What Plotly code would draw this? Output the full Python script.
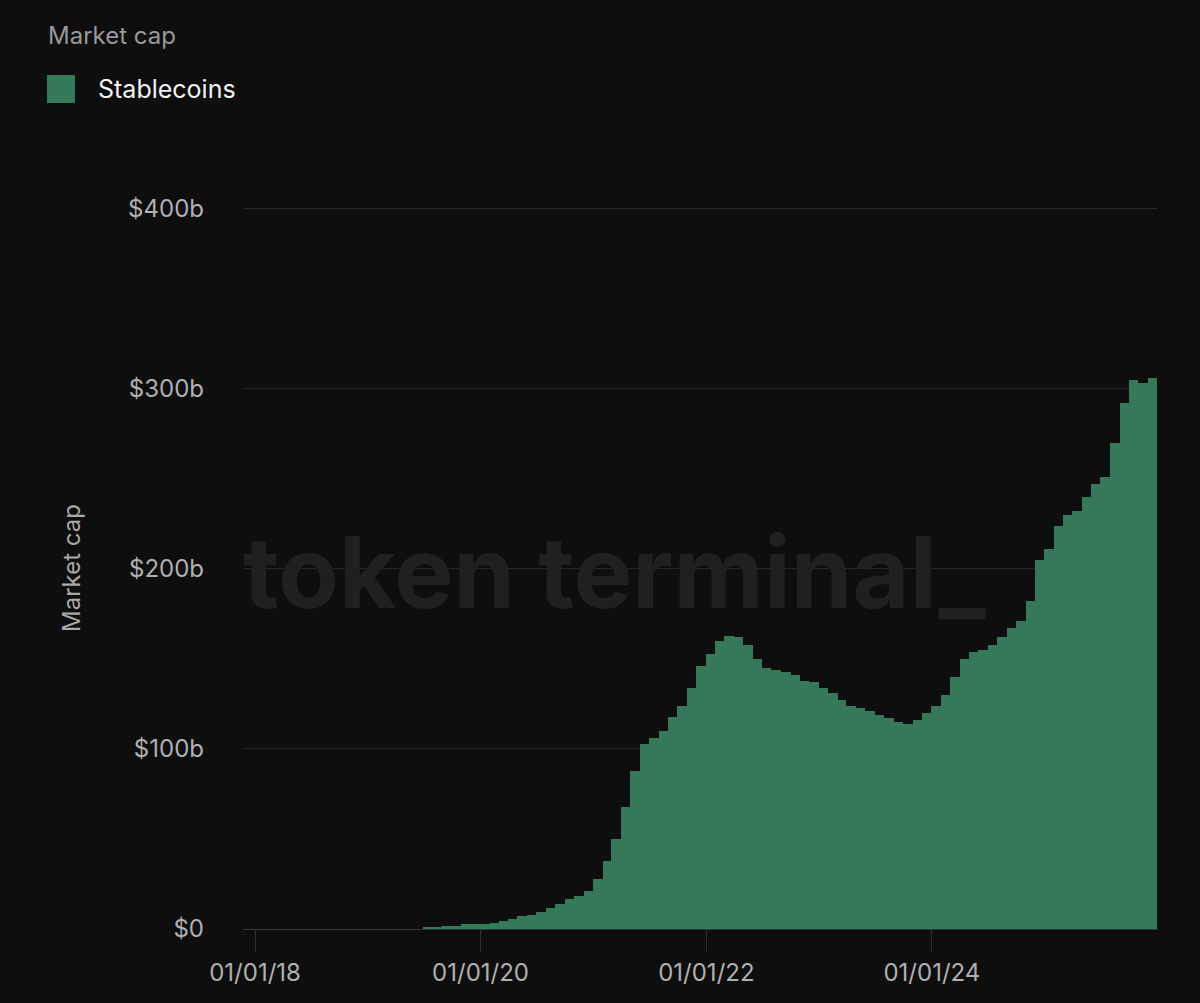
import plotly.graph_objects as go

# ---- data (monthly, USD billions) ----
months = [
    "2019-07", "2019-08", "2019-09", "2019-10", "2019-11", "2019-12",
    "2020-01", "2020-02", "2020-03", "2020-04", "2020-05", "2020-06",
    "2020-07", "2020-08", "2020-09", "2020-10", "2020-11", "2020-12",
    "2021-01", "2021-02", "2021-03", "2021-04", "2021-05", "2021-06",
    "2021-07", "2021-08", "2021-09", "2021-10", "2021-11", "2021-12",
    "2022-01", "2022-02", "2022-03", "2022-04", "2022-05", "2022-06",
    "2022-07", "2022-08", "2022-09", "2022-10", "2022-11", "2022-12",
    "2023-01", "2023-02", "2023-03", "2023-04", "2023-05", "2023-06",
    "2023-07", "2023-08", "2023-09", "2023-10", "2023-11", "2023-12",
    "2024-01", "2024-02", "2024-03", "2024-04", "2024-05", "2024-06",
    "2024-07", "2024-08", "2024-09", "2024-10", "2024-11", "2024-12",
    "2025-01", "2025-02", "2025-03", "2025-04", "2025-05", "2025-06",
    "2025-07", "2025-08", "2025-09", "2025-10", "2025-11", "2025-12",
]
stablecoins_b = [
    1.3, 1.3, 1.4, 1.5, 2.6, 2.7,
    2.8, 3.2, 4.5, 5.5, 7.0, 8.0,
    9.5, 11.5, 14.0, 16.5, 18.5, 21.0,
    28.0, 38.0, 50.0, 68.0, 88.0, 103.0,
    106.0, 110.0, 118.0, 124.0, 134.0, 146.0,
    153.0, 160.0, 163.0, 162.0, 158.0, 150.0,
    145.0, 144.0, 143.0, 141.0, 138.0, 137.0,
    134.0, 131.0, 127.0, 124.0, 123.0, 121.0,
    119.0, 117.0, 115.0, 114.0, 116.0, 120.0,
    124.0, 130.0, 140.0, 150.0, 154.0, 155.0,
    158.0, 162.0, 167.0, 171.0, 182.0, 205.0,
    211.0, 224.0, 230.0, 232.0, 240.0, 247.0,
    251.0, 270.0, 292.0, 305.0, 303.0, 306.0,
]
x_tick_vals = ["2018-01-01", "2020-01-01", "2022-01-01", "2024-01-01"]
x_tick_text = ["01/01/18", "01/01/20", "01/01/22", "01/01/24"]
y_tick_vals = [0, 100, 200, 300, 400]
y_tick_text = ["$0", "$100b", "$200b", "$300b", "$400b"]

# ---- styling ----
BG = "#0e0e0e"
BAR = "#36795a"
FONT = "Inter, Roboto, sans-serif"
W, H = 1200, 1003
ML, MR, MT, MB = 243, 42, 207, 74
PW, PH = W - ML - MR, H - MT - MB

def px_x(px):
    return (px - ML) / PW

def px_y(py):
    return (H - MB - py) / PH

bar_x = [m + "-15" for m in months]

fig = go.Figure()
fig.add_trace(go.Bar(
    x=bar_x,
    y=stablecoins_b,
    width=31 * 86400000,
    marker=dict(color=BAR, line=dict(width=0)),
    name="Stablecoins",
    showlegend=False,
    hovertemplate="%{x|%b %Y}: $%{y}b<extra></extra>",
))

fig.update_layout(
    width=W, height=H,
    paper_bgcolor=BG, plot_bgcolor=BG,
    margin=dict(l=ML, r=MR, t=MT, b=MB),
    bargap=0,
    showlegend=False,
    font=dict(family=FONT, color="#b0b0b0", size=24),
    xaxis=dict(
        type="date",
        range=["2017-11-23", "2026-01-02"],
        tickvals=x_tick_vals,
        ticktext=x_tick_text,
        ticks="outside",
        ticklen=22,
        tickwidth=1,
        tickcolor="#2e2e2e",
        showgrid=False,
        showline=False,
        zeroline=False,
        tickfont=dict(size=24, color="#b0b0b0", family=FONT),
    ),
    yaxis=dict(
        range=[0, 401],
        tickvals=y_tick_vals,
        ticktext=y_tick_text,
        ticks="",
        showgrid=True,
        gridcolor="#262626",
        gridwidth=1,
        zeroline=True,
        zerolinecolor="#333333",
        zerolinewidth=1,
        ticklabelstandoff=38,
        tickfont=dict(size=24, color="#b0b0b0", family=FONT),
        title=dict(text="Market cap", font=dict(size=24, color="#a8a8a8", family=FONT), standoff=40),
    ),
    shapes=[
        dict(type="rect", xref="paper", yref="paper",
             x0=px_x(47), x1=px_x(75), y0=px_y(103), y1=px_y(75),
             fillcolor=BAR, line=dict(width=0), layer="above"),
    ],
    annotations=[
        dict(text="Market cap", xref="paper", yref="paper",
             x=px_x(46), y=px_y(35), xanchor="left", yanchor="middle",
             showarrow=False, font=dict(size=24, color="#999999", family=FONT)),
        dict(text="Stablecoins", xref="paper", yref="paper",
             x=px_x(96), y=px_y(89), xanchor="left", yanchor="middle",
             showarrow=False, font=dict(size=25, color="#f2f2f2", family=FONT)),
        dict(text="<b>token terminal_</b>", xref="paper", yref="paper",
             x=px_x(614), y=px_y(572), xanchor="center", yanchor="middle",
             showarrow=False, font=dict(size=99, color="#202020", family=FONT)),
    ],
)

fig.write_html(
    "out.html",
    config={"displayModeBar": False},
    post_script="document.body.style.margin='0';document.body.style.background='#0e0e0e';document.body.style.overflow='hidden';",
)
